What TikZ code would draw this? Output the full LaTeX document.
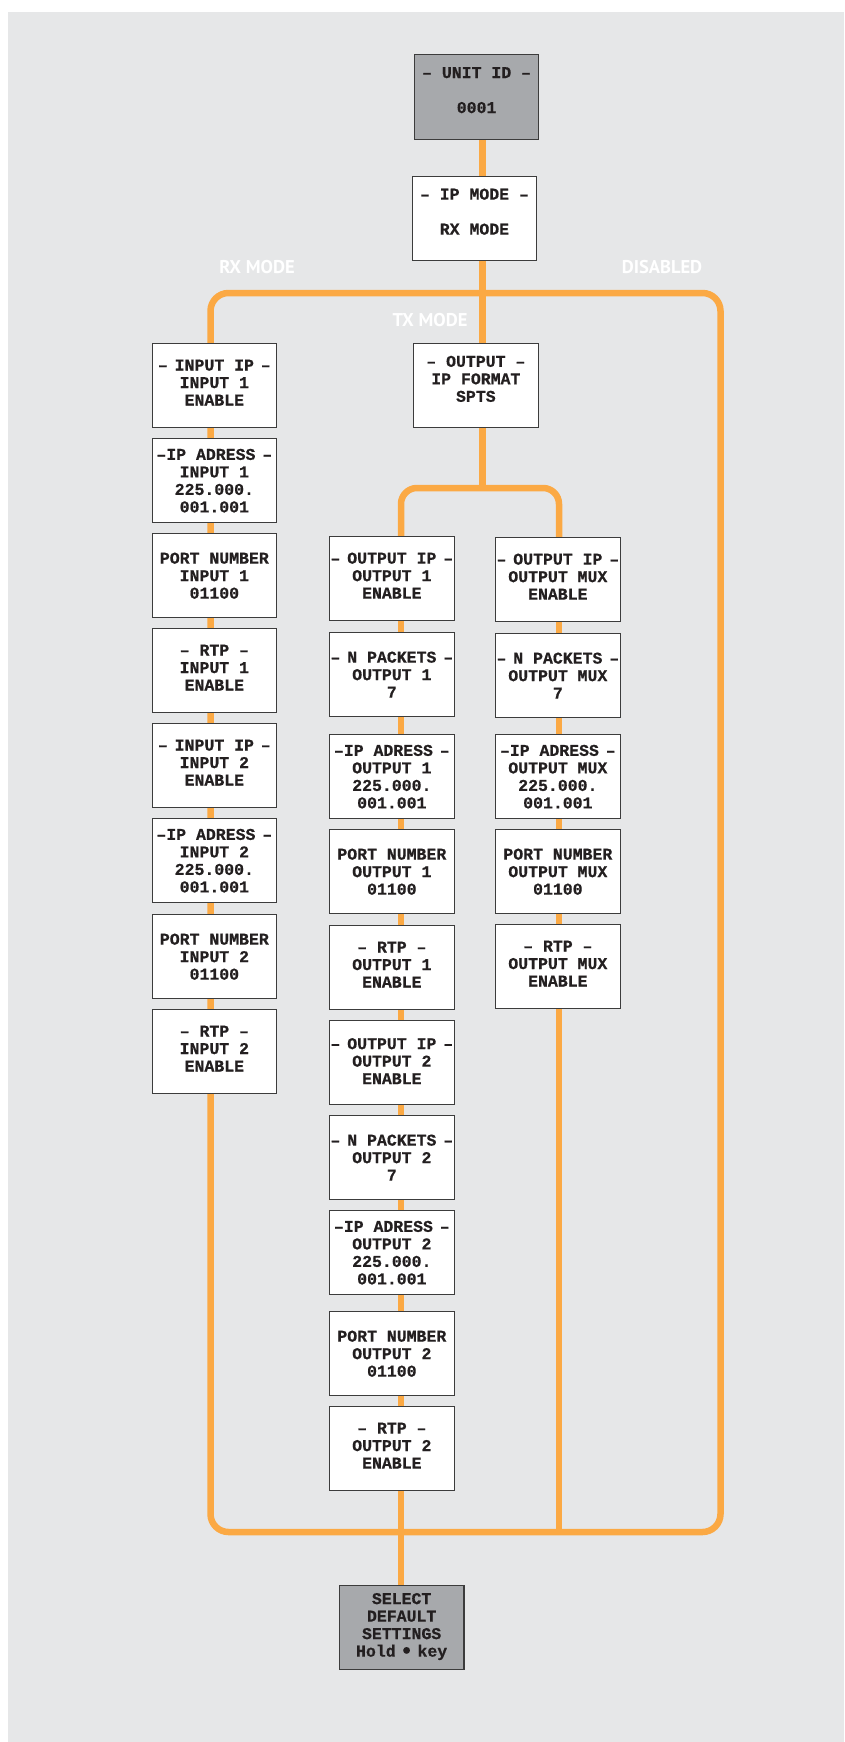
\documentclass[tikz,border=0pt]{standalone}
\usepackage{fontspec}
\newfontfamily\lcdfont{Liberation Mono}[BoldFeatures={FakeBold=0.6}]
\newfontfamily\labfont{PT Sans}
\usetikzlibrary{calc}
\definecolor{bgc}{HTML}{E6E7E8}
\definecolor{wirec}{HTML}{FBA944}
\definecolor{boxgray}{HTML}{A7A9AC}
\definecolor{ink}{HTML}{231F20}
\definecolor{edgec}{HTML}{3C3C3C}
\pgfdeclarelayer{back}
\pgfsetlayers{back,main}
\newcommand{\dL}{–\hspace{-3pt}\ }
\newcommand{\dR}{\ \hspace{-3pt}–}
\begin{document}
\begin{tikzpicture}[x=1pt,y=-1pt,
  lcd/.style={draw=edgec, line width=1.2pt, fill=white, anchor=north west,
    minimum width=124.5pt, minimum height=84pt, inner sep=0pt, align=center,
    text=ink, font=\lcdfont\bfseries\fontsize{16.5}{17.5}\selectfont, text depth=0pt},
  dark/.style={fill=boxgray},
  hi/.style={text depth=6pt},
  wire/.style={draw=wirec, line width=6.5pt},
  modelabel/.style={text=white, font=\labfont\bfseries\fontsize{18.5}{20}\selectfont, inner sep=0pt}
]
\useasboundingbox (0,0) rectangle (844,1742);

% coordinates of wire axes
\coordinate (mainx) at (482.7,0);
\coordinate (leftx) at (210.5,0);
\coordinate (midx) at (401,0);
\coordinate (rcolx) at (559,0);
\coordinate (loopx) at (720.5,0);
\coordinate (bustop) at (0,293);
\coordinate (busbot) at (0,1532);
\coordinate (splity) at (0,488);

% top boxes
\node[lcd,dark,text depth=14pt,minimum width=124pt,minimum height=85pt] (unit) at (414,54) {– UNIT ID –\\[17.5pt]0001};
\node[lcd,text depth=14pt] (ipmode) at (411.6,176) {– IP MODE –\\[17.5pt]RX MODE};
\node[lcd,text depth=13pt] (outfmt) at (413,342.7) {– OUTPUT –\\IP FORMAT\\SPTS};

% labels
\node[modelabel] (lrx) at (257,267) {RX MODE};
\node[modelabel] (ldis) at (662,267) {DISABLED};
\node[modelabel] (ltx) at (430,320) {TX MODE};

% left column
\node[lcd,hi] (in1) at (151.5,343) {\dL INPUT IP\dR\\INPUT 1\\ENABLE};
\node[lcd] (in2) at (151.5,438) {–IP ADRESS\dR\\INPUT 1\\225.000.\\001.001};
\node[lcd] (in3) at (151.5,533) {PORT NUMBER\\INPUT 1\\01100};
\node[lcd,hi] (in4) at (151.5,628) {– RTP –\\INPUT 1\\ENABLE};
\node[lcd,hi] (in5) at (151.5,723) {\dL INPUT IP\dR\\INPUT 2\\ENABLE};
\node[lcd] (in6) at (151.5,818) {–IP ADRESS\dR\\INPUT 2\\225.000.\\001.001};
\node[lcd] (in7) at (151.5,914) {PORT NUMBER\\INPUT 2\\01100};
\node[lcd,hi] (in8) at (151.5,1009) {– RTP –\\INPUT 2\\ENABLE};

% middle column
\node[lcd,hi] (o1) at (329,536) {\dL OUTPUT IP\dR\\OUTPUT 1\\ENABLE};
\node[lcd] (o2) at (329,632) {\dL N PACKETS\dR\\OUTPUT 1\\7};
\node[lcd] (o3) at (329,734) {–IP ADRESS\dR\\OUTPUT 1\\225.000.\\001.001};
\node[lcd] (o4) at (329,829) {PORT NUMBER\\OUTPUT 1\\01100};
\node[lcd,hi] (o5) at (329,925) {– RTP –\\OUTPUT 1\\ENABLE};
\node[lcd,text depth=3pt] (o6) at (329,1020) {\dL OUTPUT IP\dR\\OUTPUT 2\\ENABLE};
\node[lcd] (o7) at (329,1115) {\dL N PACKETS\dR\\OUTPUT 2\\7};
\node[lcd] (o8) at (329,1210) {–IP ADRESS\dR\\OUTPUT 2\\225.000.\\001.001};
\node[lcd] (o9) at (329,1311) {PORT NUMBER\\OUTPUT 2\\01100};
\node[lcd,hi] (o10) at (329,1406) {– RTP –\\OUTPUT 2\\ENABLE};

% right column
\node[lcd,hi] (m1) at (495,537) {\dL OUTPUT IP\dR\\OUTPUT MUX\\ENABLE};
\node[lcd] (m2) at (495,633) {\dL N PACKETS\dR\\OUTPUT MUX\\7};
\node[lcd] (m3) at (495,734) {–IP ADRESS\dR\\OUTPUT MUX\\225.000.\\001.001};
\node[lcd] (m4) at (495,829) {PORT NUMBER\\OUTPUT MUX\\01100};
\node[lcd,hi] (m5) at (495,924) {– RTP –\\OUTPUT MUX\\ENABLE};

% final box
\node[lcd,dark,text depth=5.6pt] (sel) at (338.8,1585) {SELECT\\DEFAULT\\SETTINGS\\Hold\hspace{4pt}\raisebox{-1.5pt}{\scalebox{1.4}{•}}\hspace{4pt}key};

\begin{pgfonlayer}{back}
  \fill[bgc] (8,12) rectangle (844,1742);
  \draw[wire] (unit.south -| mainx) -- (ipmode.north -| mainx);
  \draw[wire] (ipmode.south -| mainx) -- (outfmt.north -| mainx);
  \draw[wire,rounded corners=18pt] (in1.north -| leftx) -- (leftx |- bustop) -- (loopx |- bustop)
     -- (loopx |- busbot) -- (leftx |- busbot) -- cycle;
  \draw[wire] (outfmt.south -| mainx) -- (mainx |- splity);
  \draw[wire,rounded corners=16pt] (o1.north -| midx) -- (midx |- splity) -- (rcolx |- splity) -- (m1.north -| rcolx);
  \draw[wire] (o1.north -| midx) -- (sel.north -| midx);
  \draw[wire] (m1.north -| rcolx) -- (rcolx |- busbot);
\end{pgfonlayer}
\end{tikzpicture}
\end{document}
